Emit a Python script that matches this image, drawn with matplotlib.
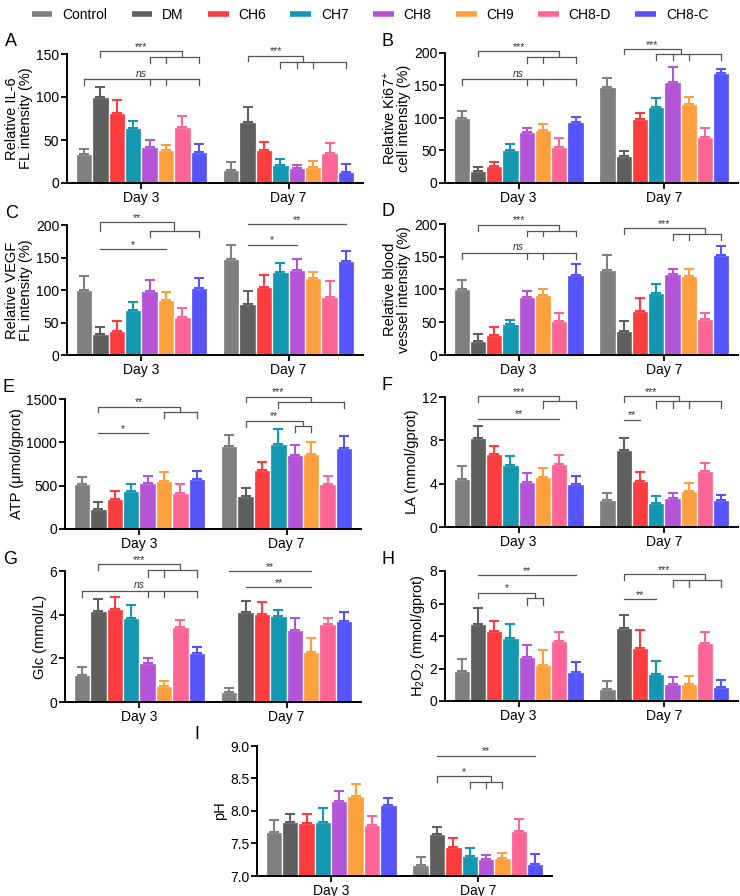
import matplotlib
matplotlib.use('Agg')
import matplotlib.pyplot as plt
from matplotlib.lines import Line2D
import numpy as np

plt.rcParams['font.family'] = ['Liberation Sans', 'DejaVu Sans']
plt.rcParams['mathtext.fontset'] = 'custom'
plt.rcParams['mathtext.rm'] = 'Liberation Sans'
plt.rcParams['mathtext.it'] = 'Liberation Sans:italic'
plt.rcParams['mathtext.default'] = 'rm'

# 组别与颜色
groups = ['Control', 'DM', 'CH6', 'CH7', 'CH8', 'CH9', 'CH8-D', 'CH8-C']
colors = ['#808080', '#5f5f5f', '#fb3d40', '#1497b0', '#b455d8', '#ffa03f', '#fb6697', '#5655fb']
days = ['Day 3', 'Day 7']

# 数据: 每个指标 Day 3 / Day 7 的均值和误差
il6_d3 = [34, 100, 81, 64, 42, 38, 65, 36]
il6_d3_err = [6, 12, 15, 8, 8, 6, 13, 9]
il6_d7 = [15, 71, 38, 21, 17, 19, 35, 13]
il6_d7_err = [9, 17, 10, 7, 4, 6, 12, 9]

ki67_d3 = [100, 18, 26, 50, 78, 81, 56, 94]
ki67_d3_err = [10, 6, 7, 10, 7, 9, 13, 7]
ki67_d7 = [148, 41, 99, 117, 155, 122, 70, 169]
ki67_d7_err = [13, 8, 8, 13, 23, 11, 14, 7]

vegf_d3 = [100, 33, 37, 69, 98, 85, 59, 103]
vegf_d3_err = [22, 10, 15, 12, 17, 12, 13, 16]
vegf_d7 = [148, 79, 105, 127, 131, 119, 89, 144]
vegf_d7_err = [21, 19, 18, 14, 17, 9, 25, 16]

vessel_d3 = [100, 22, 31, 48, 88, 92, 52, 122]
vessel_d3_err = [15, 10, 12, 5, 10, 9, 12, 17]
vessel_d7 = [130, 36, 67, 95, 124, 121, 55, 152]
vessel_d7_err = [22, 16, 20, 13, 7, 11, 9, 15]

atp_d3 = [518, 234, 341, 433, 529, 552, 414, 575]
atp_d3_err = [77, 73, 100, 92, 77, 104, 100, 100]
atp_d7 = [959, 376, 679, 978, 855, 863, 525, 932]
atp_d7_err = [130, 100, 96, 177, 115, 142, 89, 142]

la_d3 = [4.47, 8.17, 6.7, 5.72, 4.19, 4.62, 5.85, 4.0]
la_d3_err = [1.13, 1.16, 0.8, 0.86, 0.83, 0.83, 0.76, 0.74]
la_d7 = [2.45, 7.13, 4.25, 2.23, 2.66, 3.3, 5.2, 2.45]
la_d7_err = [0.7, 1.13, 0.8, 0.65, 0.49, 0.77, 0.7, 0.55]

glc_d3 = [1.22, 4.19, 4.24, 3.84, 1.78, 0.75, 3.44, 2.23]
glc_d3_err = [0.38, 0.52, 0.55, 0.6, 0.24, 0.2, 0.33, 0.31]
glc_d7 = [0.47, 4.12, 4.01, 3.93, 3.32, 2.27, 3.57, 3.72]
glc_d7_err = [0.17, 0.5, 0.58, 0.29, 0.54, 0.67, 0.3, 0.38]

h2o2_d3 = [1.83, 4.75, 4.28, 3.89, 2.7, 2.2, 3.72, 1.79]
h2o2_d3_err = [0.74, 0.95, 0.66, 0.84, 0.76, 0.95, 0.54, 0.64]
h2o2_d7 = [0.76, 4.5, 3.29, 1.69, 1.03, 1.05, 3.58, 0.88]
h2o2_d7_err = [0.5, 0.77, 1.09, 0.76, 0.43, 0.49, 0.64, 0.44]

ph_d3 = [7.68, 7.83, 7.81, 7.83, 8.15, 8.23, 7.78, 8.09]
ph_d3_err = [0.18, 0.13, 0.15, 0.22, 0.15, 0.18, 0.14, 0.11]
ph_d7 = [7.17, 7.64, 7.45, 7.3, 7.26, 7.28, 7.69, 7.19]
ph_d7_err = [0.12, 0.11, 0.14, 0.13, 0.07, 0.08, 0.18, 0.15]

# 显著性标记: ('top', 组, 左柱, 右柱, y, 左端y, 右端y, 文字) / ('comb', 组, [柱], y, 下端y, 文字)
marks_a = [('top', 0, 1, 6, 153, 147, 146.5, '***'), ('comb', 0, [4, 5, 7], 146.5, 140, ''),
           ('comb', 0, [0, 4, 5, 7], 121, 114, 'ns'),
           ('top', 1, 1, 4.4, 148, 142, 141, '***'), ('comb', 1, [3, 4, 5, 7], 141, 134, '')]
marks_b = [('top', 0, 1, 6, 203, 195, 194, '***'), ('comb', 0, [4, 5, 7], 194, 184, ''),
           ('comb', 0, [0, 4, 5, 7], 160, 151, 'ns'),
           ('top', 1, 1, 4.5, 206, 198, 198, '***'), ('comb', 1, [3, 4, 5, 7], 198, 189, '')]
marks_c = [('top', 0, 1, 5.5, 204, 191, 191, '**'), ('comb', 0, [4, 7], 191, 181, ''),
           ('top', 0, 1, 5, 163, 163, 163, '*'),
           ('top', 1, 1, 7, 201, 201, 201, '**'), ('top', 1, 1, 4, 170, 170, 170, '*')]
marks_d = [('top', 0, 1, 6, 199, 190, 190, '***'), ('comb', 0, [4, 5, 7], 190, 181, ''),
           ('comb', 0, [0, 4, 5, 7], 156, 147, 'ns'),
           ('top', 1, 1, 6, 194, 184, 184, '***'), ('comb', 1, [4, 5, 7], 184, 176, '')]
marks_e = [('top', 0, 1, 6, 1412, 1346, 1346, '**'), ('comb', 0, [5, 7], 1346, 1277, ''),
           ('top', 0, 1, 4, 1105, 1105, 1105, '*'),
           ('top', 1, 1, 5, 1527, 1461, 1461, '***'), ('comb', 1, [3, 7], 1461, 1392, ''),
           ('top', 1, 1, 4.5, 1250, 1181, 1193, '**'), ('comb', 1, [4, 5], 1193, 1124, '')]
marks_f = [('top', 0, 1, 6, 12.09, 11.54, 11.6, '***'), ('comb', 0, [5, 7], 11.6, 11.0, ''),
           ('top', 0, 1, 6, 10.0, 10.0, 10.0, '**'),
           ('top', 1, 1, 4.4, 12.09, 11.55, 11.6, '***'), ('comb', 1, [3, 4, 5, 7], 11.6, 11.0, ''),
           ('top', 1, 1, 2, 9.9, 9.9, 9.9, '**')]
marks_g = [('top', 0, 1, 6, 6.31, 6.05, 6.05, '***'), ('comb', 0, [4, 5, 7], 6.05, 5.74, ''),
           ('comb', 0, [0, 4, 5, 7], 5.1, 4.82, 'ns'),
           ('top', 1, 0, 5, 6.0, 6.0, 6.0, '**'), ('top', 1, 1, 5, 5.25, 5.25, 5.25, '**')]
marks_h = [('top', 0, 1, 7, 7.76, 7.76, 7.76, '**'), ('top', 0, 1, 4.5, 6.67, 6.31, 6.31, '*'),
           ('comb', 0, [4, 5], 6.31, 5.9, ''),
           ('top', 1, 1, 6, 7.8, 7.45, 7.45, '***'), ('comb', 1, [4, 5, 7], 7.45, 7.03, ''),
           ('top', 1, 1, 3, 6.28, 6.28, 6.28, '**')]
marks_i = [('top', 1, 1, 7, 8.85, 8.85, 8.85, '**'), ('top', 1, 1, 4.3, 8.54, 8.44, 8.44, '*'),
           ('comb', 1, [3, 4, 5], 8.44, 8.36, '')]

W, H = 740, 896
S = 0.1115  # 柱间距
fig = plt.figure(figsize=(W / 100, H / 100), dpi=100)


def bx(g, i):
    return g + (i - 3.5) * S


def add_label(ax, x, y, txt):
    if txt == 'ns':
        ax.annotate('ns', (x, y), xytext=(0, 0.3), textcoords='offset points', ha='center',
                    va='bottom', fontsize=7.5, style='italic', color='#333333', annotation_clip=False)
    elif txt:
        ax.annotate(txt, (x, y), xytext=(0, -0.5), textcoords='offset points', ha='center',
                    va='bottom', fontsize=7.5, color='#333333', annotation_clip=False)


def draw_marks(ax, marks):
    lc = '#555555'
    for m in marks:
        if m[0] == 'top':
            _, g, i1, i2, y, yl, yr, txt = m
            x1, x2 = bx(g, i1), bx(g, i2)
            ax.plot([x1, x1, x2, x2], [yl, y, y, yr], color=lc, lw=0.9, clip_on=False)
            add_label(ax, (x1 + x2) / 2, y, txt)
        else:
            _, g, idx, y, y0, txt = m
            xs = [bx(g, i) for i in idx]
            ax.plot([min(xs), max(xs)], [y, y], color=lc, lw=0.9, clip_on=False)
            for x in xs:
                ax.plot([x, x], [y, y0], color=lc, lw=0.9, clip_on=False)
            add_label(ax, (min(xs) + max(xs)) / 2, y, txt)


def panel(box, letter, d3, d3e, d7, d7e, ylim, yticks, ylabel, marks, fmt=None):
    l, t, r, b = box
    ax = fig.add_axes([l / W, 1 - b / H, (r - l) / W, (b - t) / H])
    for g, (vals, errs) in enumerate([(d3, d3e), (d7, d7e)]):
        for i in range(8):
            x = bx(g, i)
            ax.bar(x, vals[i], width=S, color=colors[i], edgecolor='white', linewidth=0.9, zorder=2)
            ax.errorbar(x, vals[i], yerr=[[0], [errs[i]]], fmt='none', ecolor=colors[i],
                        elinewidth=1.5, capsize=3.6, capthick=1.5, zorder=3)
    ax.set_xlim(-0.505, 1.505)
    ax.set_ylim(*ylim)
    ax.set_yticks(yticks)
    if fmt:
        ax.set_yticklabels([fmt % v for v in yticks])
    ax.set_xticks([0, 1], days)
    for s in ['top', 'right']:
        ax.spines[s].set_visible(False)
    for s in ['left', 'bottom']:
        ax.spines[s].set_linewidth(1.4)
    ax.tick_params(axis='both', direction='out', length=4, width=1.3, labelsize=10, pad=1.5)
    ax.set_ylabel(ylabel, fontsize=10.5, linespacing=1.0, labelpad=2)
    draw_marks(ax, marks)
    fig.text((l - 62) / W if l < 100 else (l - 63) / W, 1 - (t - 12) / H, letter,
             fontsize=13, va='center', ha='left')
    return ax


panel((67, 54, 363, 183), 'A', il6_d3, il6_d3_err, il6_d7, il6_d7_err, (0, 150),
      [0, 50, 100, 150], 'Relative IL-6\nFL intensity (%)', marks_a)
panel((445, 53, 738, 183), 'B', ki67_d3, ki67_d3_err, ki67_d7, ki67_d7_err, (0, 200),
      [0, 50, 100, 150, 200], 'Relative Ki67$^{+}$\ncell intensity (%)', marks_b)
panel((67, 225, 363, 355), 'C', vegf_d3, vegf_d3_err, vegf_d7, vegf_d7_err, (0, 200),
      [0, 50, 100, 150, 200], 'Relative VEGF\nFL intensity (%)', marks_c)
panel((445, 224, 738, 355), 'D', vessel_d3, vessel_d3_err, vessel_d7, vessel_d7_err, (0, 200),
      [0, 50, 100, 150, 200], 'Relative blood\nvessel intensity (%)', marks_d)
panel((65, 399, 361, 529), 'E', atp_d3, atp_d3_err, atp_d7, atp_d7_err, (0, 1500),
      [0, 500, 1000, 1500], 'ATP (μmol/gprot)', marks_e)
panel((445, 397, 738, 527), 'F', la_d3, la_d3_err, la_d7, la_d7_err, (0, 12),
      [0, 4, 8, 12], 'LA (mmol/gprot)', marks_f)
panel((65, 571, 361, 702), 'G', glc_d3, glc_d3_err, glc_d7, glc_d7_err, (0, 6),
      [0, 2, 4, 6], 'Glc (mmol/L)', marks_g)
panel((445, 571, 738, 701), 'H', h2o2_d3, h2o2_d3_err, h2o2_d7, h2o2_d7_err, (0, 8),
      [0, 2, 4, 6, 8], 'H$_2$O$_2$ (mmol/gprot)', marks_h)
panel((257, 746, 552, 876), 'I', ph_d3, ph_d3_err, ph_d7, ph_d7_err, (7.0, 9.0),
      [7.0, 7.5, 8.0, 8.5, 9.0], 'pH', marks_i, fmt='%.1f')

handles = [Line2D([], [], color=c, lw=4, solid_capstyle='butt') for c in colors]
fig.legend(handles, groups, loc='upper center', bbox_to_anchor=(0.5, 1.0), ncol=8,
           frameon=False, fontsize=10, handlelength=1.5, handletextpad=0.7,
           columnspacing=1.75, borderaxespad=0.2)

fig.savefig('out.png', dpi=100)
